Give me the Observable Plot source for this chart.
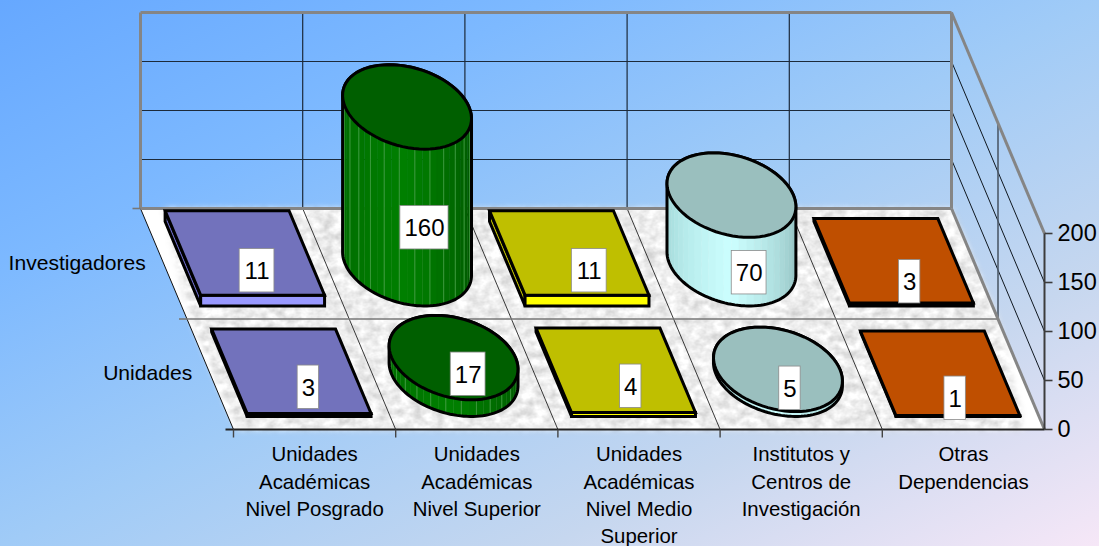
<!DOCTYPE html>
<html><head><meta charset="utf-8">
<script src="https://cdn.jsdelivr.net/npm/d3@7"></script>
<script src="https://cdn.jsdelivr.net/npm/@observablehq/plot@0.6"></script>
<style>
html,body{margin:0;padding:0;width:1099px;height:546px;overflow:hidden}
body{background:linear-gradient(to bottom right,#66a8ff 0%,#7db9ff 25%,#a0cbf7 50%,#c6d7ef 75%,#f6e7f7 100%)}
svg{display:block}
</style></head><body>
<script>
// ---- chart values ----
const categories = ["Unidades\nAcadémicas\nNivel Posgrado","Unidades\nAcadémicas\nNivel Superior","Unidades\nAcadémicas\nNivel Medio\nSuperior","Institutos y\nCentros de\nInvestigación","Otras\nDependencias"];
const seriesNames = ["Unidades","Investigadores"];
const unidades = [3,17,4,5,1];
const investigadores = [11,160,11,70,3];
const valueTicks = [0,50,100,150,200];
const shapes = ["box","cyl","box","cyl","box"];
const topColors = ["#7272bc","#005f00","#bfbf00","#9abfbe","#bf4f00"];
const frontColors = ["#9999ff","#007a00","#ffff00","#ccffff","#ff6600"];
const sideColors = ["#6a6ac4","#006400","#bfbf00","#9fd8d8","#bf4f00"];
const bodyStops = [null,["#006a00","#008000","#005400"],null,["#a0d6d6","#ccffff","#8fbcbc"],null];
const facetLines = [null,"#3f9c3f",null,null,null];
// label placement relative to the cell centre on the floor
const labelNudgeX = [[17,14.6,15,12,15],[12.2,17.4,20,17.7,16]];
const labelNudgeY = [[13,0,12,14,24],[7,-36,7,9,18]];

// ---- oblique projection: category, depth, value -> plot coordinates ----
const X0=233,Y0=429,CW=162.2,SX=46.5,SY=110.5,VS=0.98;
const P=(c,s,v=0)=>[X0+c*CW-s*SX, Y0-s*SY-v*VS];
const GAP=0.118, R=0.382;

const polys=[]; let pid=0;
function poly(pts,fill,stroke,sw){const id=pid++;pts.forEach(p=>polys.push({id,x:p[0],y:p[1],fill,stroke,sw}));}
const K=3;
function box(i,s,v){
  const a=i+GAP,b=i+1-GAP,f=s+GAP,k=s+1-GAP;
  poly([P(a,f,0),P(a,k,0),P(a,k,v),P(a,f,v)],sideColors[i],"#000",K);
  poly([P(a,f,0),P(b,f,0),P(b,f,v),P(a,f,v)],frontColors[i],"#000",K);
  poly([P(a,f,v),P(b,f,v),P(b,k,v),P(a,k,v)],topColors[i],"#000",K);
}
function cyl(i,s,v){
  const C=(t,h)=>P(i+.5+R*Math.cos(t),s+.5+R*Math.sin(t),h);
  const off=Math.atan(SX/CW), t0=Math.PI-off, t1=2*Math.PI-off; // silhouette angles
  const ramp=d3.piecewise(d3.interpolateRgb,bodyStops[i]);
  const N=26, arc=[];
  for(let j=0;j<=N;j++) arc.push(t0+(t1-t0)*j/N);
  for(let j=0;j<N;j++){
    const col=ramp((j+.5)/N);
    poly([C(arc[j],0),C(arc[j+1],0),C(arc[j+1],v),C(arc[j],v)],col,col,.5);
  }
  if(facetLines[i]) for(let j=2;j<N;j+=2){
    const id=pid++;
    [C(arc[j],0),C(arc[j],v)].forEach(p=>polys.push({id,x:p[0],y:p[1],fill:"none",stroke:facetLines[i],sw:.6}));
  }
  const out=[];
  for(let j=0;j<=60;j++){const t=arc[0]+(arc[N]-arc[0])*j/60; out.push(C(t,0));}
  for(let j=0;j<=60;j++){const t=arc[N]+(arc[0]+2*Math.PI-arc[N])*j/60; out.push(C(t,v));}
  poly(out,"none","#000",K);
  const top=[];for(let j=0;j<72;j++){top.push(C(j/72*2*Math.PI,v));}
  poly(top,topColors[i],"#000",K);
}
const rows=[[1,investigadores],[0,unidades]];
rows.forEach(([s,vals])=>vals.forEach((v,i)=>(shapes[i]==="box"?box:cyl)(i,s,v)));

// ---- frame geometry ----
const seg=(a,b,stroke,w)=>({x1:a[0],y1:a[1],x2:b[0],y2:b[1],stroke,w});
const floorOuter=[P(0,2),P(5,2),P(5,0),P(0,0)].map(p=>({x:p[0],y:p[1]}));
const floorInner=[[.14,2],[5,2],[5,1],[4.88,0],[.02,0],[.02,1]].map(a=>P(a[0],a[1])).map(p=>({x:p[0],y:p[1]}));
const lines=[];
valueTicks.slice(1,4).forEach(v=>{
  lines.push(seg(P(0,2,v),P(5,2,v),"#1c2a3a",1.2));
  lines.push(seg(P(5,2,v),P(5,0,v),"#101820",1));
});
d3.range(1,5).forEach(c=>{
  lines.push(seg(P(c,2,0),P(c,2,200),"#1c2a3a",1.2));
  lines.push(seg(P(c,2,0),P(c,0,0),"#222",.9));
});
lines.push(seg(P(0,2,0),P(0,0,0),"#111",1));
lines.push(seg(P(0,1,0),P(5,1,0),"#777",1.6));
lines.push(seg(P(5,1,0),P(5,1,200),"#4d5a6a",1.6));
[[P(0,2,0),P(0,2,200)],[P(0,2,200),P(5,2,200)],[P(5,2,200),P(5,2,0)],[P(0,2,0),P(5,2,0)],[P(5,2,200),P(5,0,200)],[P(5,2,0),P(5,0,0)]]
  .forEach(([a,b])=>lines.push(seg(a,b,"#858585",3)));
const axes=[];
axes.push(seg(P(5,0,0),P(5,0,200),"#3c3c3c",2));
axes.push(seg([P(0,0)[0]-8,P(0,0)[1]],P(5,0,0),"#222",2));
axes.push(seg([P(0,1)[0]-8,P(0,1)[1]],P(0,1),"#777",1.6));
axes.push(seg([P(0,2)[0]-8,P(0,2)[1]],P(0,2),"#777",1.6));
d3.range(0,5).forEach(c=>{const p=P(c,0);axes.push(seg(p,[p[0],p[1]+8],"#444",1.4));});
valueTicks.forEach(v=>{const p=P(5,0,v);axes.push(seg(p,[p[0]+8,p[1]],"#3c3c3c",1.6));});

// ---- labels ----
const labels=[];
[unidades,investigadores].forEach((vals,s)=>vals.forEach((v,i)=>{
  const p=P(i+.5,s+.5), t=String(v);
  labels.push({x:p[0]+labelNudgeX[s][i],y:p[1]+labelNudgeY[s][i],t,w:t.length*13.4+8});
}));
const catLabels=categories.map((t,i)=>{const p=P(i+.5,0);return {x:p[0],y:p[1],t};});
const serLabels=seriesNames.map((t,s)=>{const p=P(0,s+.5);return {x:p[0],y:p[1],t};});
const tickLabels=valueTicks.map(v=>{const p=P(5,0,v);return {x:p[0],y:p[1],t:String(v)};});

const chart=Plot.plot({
  width:1099,height:546,margin:0,
  x:{domain:[0,1099],range:[0,1099],axis:null},
  y:{domain:[0,546],range:[0,546],axis:null},
  color:{type:"identity"},
  style:{background:"transparent",fontFamily:"'Liberation Sans',Arial,sans-serif"},
  marks:[
    Plot.line(floorOuter,{x:"x",y:"y",fill:"#ffffff",stroke:"none",curve:"linear-closed"}),
    Plot.line(floorInner,{x:"x",y:"y",fill:"#ffffff",stroke:"none",curve:"linear-closed"}),
    Plot.link(lines,{x1:"x1",y1:"y1",x2:"x2",y2:"y2",stroke:"stroke",strokeWidth:"w",curve:"linear"}),
    Plot.link(axes,{x1:"x1",y1:"y1",x2:"x2",y2:"y2",stroke:"stroke",strokeWidth:"w",curve:"linear"}),
    Plot.line(polys,{x:"x",y:"y",z:"id",fill:"fill",stroke:"stroke",strokeWidth:"sw",curve:"linear-closed",strokeLinejoin:"miter",strokeMiterlimit:4}),
    Plot.rect(labels,{x1:d=>d.x-d.w/2,x2:d=>d.x+d.w/2,y1:d=>d.y-21.7,y2:d=>d.y+21.7,fill:"#fff",stroke:"#8a8a8a",strokeWidth:.8}),
    Plot.text(labels,{x:"x",y:"y",text:"t",fontSize:24,fill:"#000",dy:1}),
    Plot.text(catLabels,{x:"x",y:"y",text:"t",fontSize:20.4,lineHeight:1.34,lineAnchor:"top",dy:12.5,fill:"#000"}),
    Plot.text(serLabels,{x:"x",y:"y",text:"t",fontSize:21.1,textAnchor:"end",dx:-18,dy:-1,fill:"#000"}),
    Plot.text(tickLabels,{x:"x",y:"y",text:"t",fontSize:23.5,textAnchor:"start",dx:13,fill:"#000"})
  ]
});
// marble texture on the floor
const svg=d3.select(chart);
const f=svg.insert("defs",":first-child").append("filter").attr("id","marble")
  .attr("x","-5%").attr("y","-5%").attr("width","110%").attr("height","110%")
  .attr("color-interpolation-filters","sRGB");
f.append("feTurbulence").attr("type","fractalNoise").attr("baseFrequency",".09 .12").attr("numOctaves",3).attr("seed",4).attr("result","n");
f.append("feColorMatrix").attr("in","n").attr("type","matrix")
  .attr("values",".3 0 0 0 .78  .3 0 0 0 .78  .3 0 0 0 .78  0 0 0 0 1").attr("result","g0");
f.append("feGaussianBlur").attr("in","g0").attr("stdDeviation",.7).attr("result","g");
f.append("feGaussianBlur").attr("in","SourceAlpha").attr("stdDeviation",3).attr("result","a");
f.append("feComposite").attr("in","g").attr("in2","a").attr("operator","in");
svg.selectAll('g[aria-label="line"]').filter((d,i)=>i===1).attr("filter","url(#marble)");
document.body.appendChild(chart);
</script>
</body></html>
